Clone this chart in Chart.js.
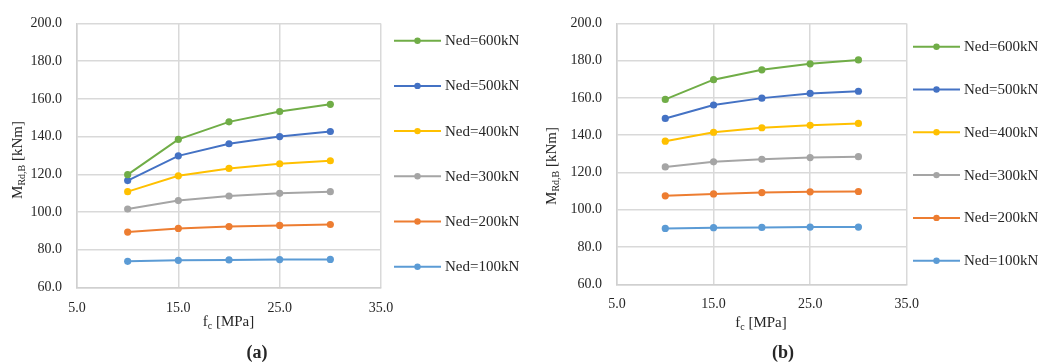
<!DOCTYPE html>
<html>
<head>
<meta charset="utf-8">
<script src="https://cdn.jsdelivr.net/npm/chart.js@4.4.0/dist/chart.umd.min.js"></script>
<style>
  html, body { margin: 0; padding: 0; background: #fff; }
  #wrap { position: relative; width: 1043px; height: 362px; }
  .panel { position: absolute; top: 0; height: 362px; }
</style>
</head>
<body>
<div id="wrap">
  <div class="panel" style="left:0;width:520px"><canvas id="chartA"></canvas></div>
  <div class="panel" style="left:520px;width:523px"><canvas id="chartB"></canvas></div>
</div>
<script>
// ---- data ----
const fcValues = [10, 15, 20, 25, 30];
const seriesLabels = ['Ned=600kN', 'Ned=500kN', 'Ned=400kN', 'Ned=300kN', 'Ned=200kN', 'Ned=100kN'];
const seriesColors = ['#70AD47', '#4472C4', '#FFC000', '#A5A5A5', '#ED7D31', '#5B9BD5'];
const xTicks = [5, 15, 25, 35];
const yTicks = [60, 80, 100, 120, 140, 160, 180, 200];

// panel (a)
const aNed600 = [119.8, 138.5, 147.8, 153.3, 157.1];
const aNed500 = [116.7, 129.8, 136.2, 140.0, 142.7];
const aNed400 = [110.8, 119.2, 123.1, 125.6, 127.2];
const aNed300 = [101.6, 106.1, 108.5, 109.9, 110.8];
const aNed200 = [89.4, 91.3, 92.3, 92.9, 93.4];
const aNed100 = [73.9, 74.4, 74.6, 74.8, 74.9];

// panel (b)
const bNed600 = [159.2, 169.8, 175.1, 178.3, 180.4];
const bNed500 = [149.0, 156.2, 159.9, 162.4, 163.6];
const bNed400 = [136.8, 141.6, 144.0, 145.3, 146.3];
const bNed300 = [123.0, 125.7, 127.1, 128.0, 128.5];
const bNed200 = [107.5, 108.5, 109.2, 109.6, 109.8];
const bNed100 = [90.0, 90.4, 90.5, 90.7, 90.7];

const FONT = '"Liberation Serif", "Times New Roman", serif';
const TEXT = '#262626';

function makeDatasets(series) {
  return series.map((vals, i) => ({
    label: seriesLabels[i],
    data: vals.map((v, j) => ({ x: fcValues[j], y: v })),
    borderColor: seriesColors[i],
    backgroundColor: seriesColors[i],
    borderWidth: 2,
    pointRadius: 3.6,
    pointHoverRadius: 3.6,
    pointBorderWidth: 0,
    tension: 0
  }));
}

function drawRich(ctx, parts, cx, cy, rotate) {
  ctx.save();
  ctx.translate(cx, cy);
  if (rotate) ctx.rotate(-Math.PI / 2);
  let total = 0;
  parts.forEach(p => { ctx.font = p.weight ? p.weight + ' ' + p.size + 'px ' + FONT : p.size + 'px ' + FONT; p.w = ctx.measureText(p.t).width; total += p.w; });
  let x = -total / 2;
  ctx.fillStyle = TEXT;
  ctx.textBaseline = 'middle';
  ctx.textAlign = 'left';
  parts.forEach(p => {
    ctx.font = p.weight ? p.weight + ' ' + p.size + 'px ' + FONT : p.size + 'px ' + FONT;
    ctx.fillText(p.t, x, p.dy || 0);
    x += p.w;
  });
  ctx.restore();
}

const annotPlugin = {
  id: 'annot',
  afterDraw(chart, args, o) {
    const ctx = chart.ctx;
    // axis titles
    drawRich(ctx, [{ t: 'M', size: 15 }, { t: 'Rd,B', size: 10, dy: 4 }, { t: ' [kNm]', size: 15 }], o.yTitle[0], o.yTitle[1], true);
    drawRich(ctx, [{ t: 'f', size: 15 }, { t: 'c', size: 10, dy: 4 }, { t: ' [MPa]', size: 15 }], o.xTitle[0], o.xTitle[1], false);
    drawRich(ctx, [{ t: '(', size: 18, weight: 'bold' }, { t: o.caption, size: 18, weight: 'bold' }, { t: ')', size: 18, weight: 'bold' }], o.cap[0], o.cap[1], false);
    // legend
    chart.data.datasets.forEach((ds, i) => {
      const y = o.legY + i * o.legStep;
      ctx.save();
      ctx.strokeStyle = ds.borderColor;
      ctx.lineWidth = 2;
      ctx.beginPath();
      ctx.moveTo(o.legX0, y);
      ctx.lineTo(o.legX1, y);
      ctx.stroke();
      ctx.fillStyle = ds.borderColor;
      ctx.beginPath();
      ctx.arc((o.legX0 + o.legX1) / 2, y, 3.2, 0, Math.PI * 2);
      ctx.fill();
      ctx.fillStyle = TEXT;
      ctx.font = '15px ' + FONT;
      ctx.textBaseline = 'middle';
      ctx.textAlign = 'left';
      ctx.fillText(ds.label, o.legText, y + 0.5);
      ctx.restore();
    });
  }
};

function makeChart(id, series, cfg) {
  return new Chart(document.getElementById(id), {
    type: 'line',
    data: { datasets: makeDatasets(series) },
    options: {
      responsive: true,
      maintainAspectRatio: false,
      animation: false,
      events: [],
      layout: { padding: cfg.padding },
      plugins: { legend: { display: false }, tooltip: { enabled: false }, annot: cfg.annot },
      scales: {
        x: {
          type: 'linear', min: 5, max: 35,
          afterBuildTicks: s => { s.ticks = xTicks.map(v => ({ value: v })); },
          afterFit: s => { s.height = 50; },
          ticks: { font: { family: FONT, size: 14 }, color: TEXT, padding: 12, callback: v => v.toFixed(1) },
          grid: { color: '#d9d9d9', lineWidth: 1.5, drawTicks: false },
          border: { color: '#d0d0d0', width: 1.5 }
        },
        y: {
          type: 'linear', min: 60, max: 200,
          afterBuildTicks: s => { s.ticks = yTicks.map(v => ({ value: v })); },
          afterFit: s => { s.width = cfg.yWidth; },
          ticks: { font: { family: FONT, size: 14 }, color: TEXT, padding: 15, callback: v => v.toFixed(1) },
          grid: { color: '#d9d9d9', lineWidth: 1.5, drawTicks: false },
          border: { color: '#d0d0d0', width: 1.5 }
        }
      }
    },
    plugins: [annotPlugin]
  });
}

makeChart('chartA', [aNed600, aNed500, aNed400, aNed300, aNed200, aNed100], {
  yWidth: 77,
  padding: { left: 0, top: 19.5, right: 139, bottom: 24.5 },
  annot: { yTitle: [18, 160], xTitle: [228.5, 322], cap: [257, 353], caption: 'a',
           legX0: 394, legX1: 441, legText: 445, legY: 40.7, legStep: 45.2 }
});

makeChart('chartB', [bNed600, bNed500, bNed400, bNed300, bNed200, bNed100], {
  yWidth: 97,
  padding: { left: 0, top: 20, right: 136.3, bottom: 27.7 },
  annot: { yTitle: [32, 166], xTitle: [241, 323], cap: [263, 353], caption: 'b',
           legX0: 393, legX1: 440, legText: 444, legY: 46.7, legStep: 42.8 }
});
</script>
</body>
</html>
